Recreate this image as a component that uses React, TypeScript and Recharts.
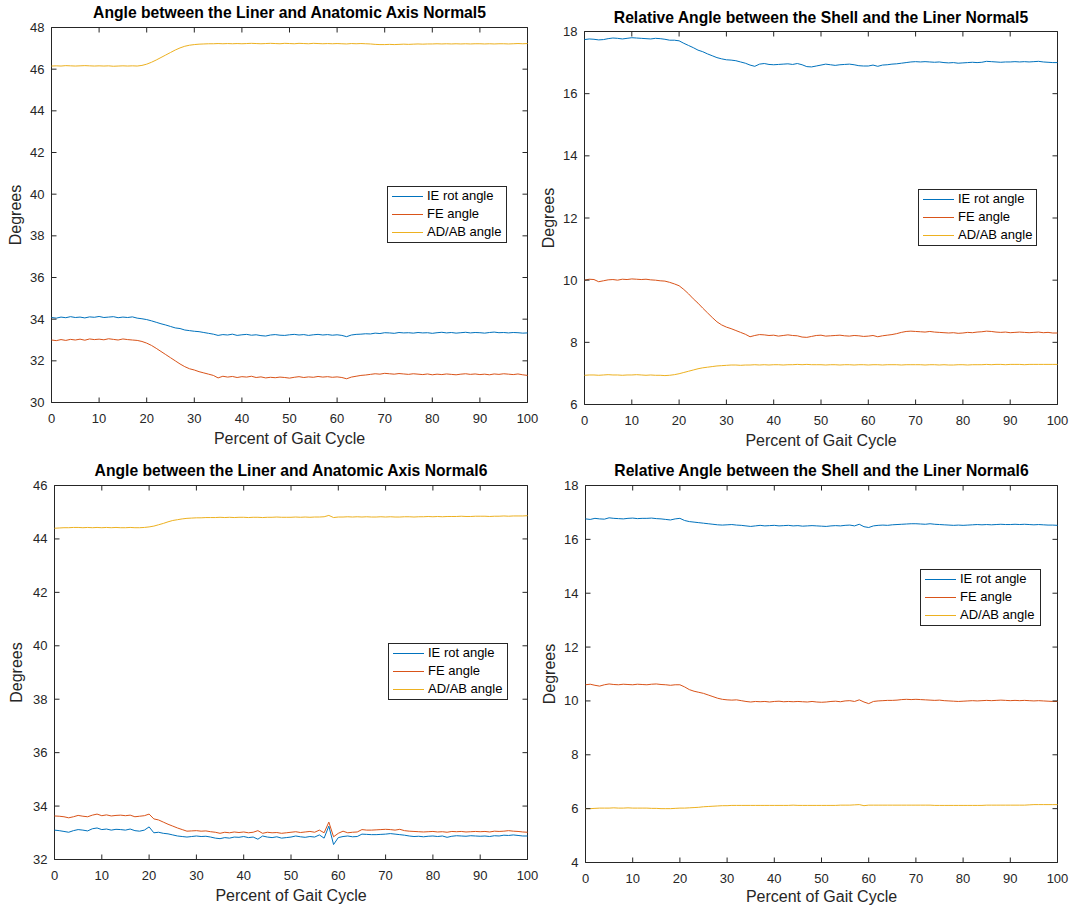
import React from 'react';
import { LineChart, Line, XAxis, YAxis, ReferenceArea, Legend } from 'recharts';

const FONT = '"Liberation Sans", Arial, Helvetica, sans-serif';
const AXIS_COLOR = '#262626';
const IE_COLOR = '#0072BD';
const FE_COLOR = '#D95319';
const AD_COLOR = '#EDB120';

// Sample positions along the gait cycle (percent, 1% steps)
const gaitPercent: number[] = Array.from({ length: 101 }, (_, i) => i);
const xTicks = [0, 10, 20, 30, 40, 50, 60, 70, 80, 90, 100];

// Normal5 — liner vs anatomic axis
const liner5Ie = [
  34.08, 34.05, 34.10, 34.07, 34.12, 34.08, 34.10, 34.06, 34.11, 34.09,
  34.13, 34.08, 34.10, 34.12, 34.07, 34.10, 34.08, 34.11, 34.05, 34.02,
  33.98, 33.92, 33.85, 33.78, 33.72, 33.65, 33.58, 33.55, 33.48, 33.45,
  33.42, 33.40, 33.36, 33.32, 33.28, 33.22, 33.26, 33.24, 33.28, 33.22,
  33.25, 33.27, 33.23, 33.25, 33.21, 33.19, 33.24, 33.26, 33.23, 33.22,
  33.25, 33.27, 33.24, 33.26, 33.22, 33.25, 33.27, 33.24, 33.26, 33.23,
  33.25, 33.22, 33.16, 33.24, 33.27, 33.28, 33.30, 33.29, 33.33, 33.31,
  33.35, 33.34, 33.32, 33.36, 33.34, 33.35, 33.33, 33.36, 33.34, 33.35,
  33.32, 33.35, 33.37, 33.34, 33.36, 33.33, 33.35, 33.37, 33.34, 33.36,
  33.35, 33.33, 33.36, 33.38, 33.35, 33.36, 33.34, 33.36, 33.35, 33.33,
  33.34,
];
const liner5Fe = [
  33.00, 32.97, 33.02, 32.98, 33.03, 33.00, 33.04, 32.99, 33.05, 33.02,
  33.04, 33.01, 33.06, 33.03, 33.00, 33.05, 33.02, 33.00, 32.98, 32.93,
  32.85, 32.74, 32.60, 32.45, 32.30, 32.15, 32.00, 31.85, 31.72, 31.62,
  31.56, 31.48, 31.42, 31.36, 31.30, 31.18, 31.26, 31.22, 31.25, 31.20,
  31.24, 31.22, 31.26, 31.20, 31.23, 31.18, 31.21, 31.19, 31.22, 31.20,
  31.17, 31.21, 31.24, 31.20, 31.23, 31.21, 31.25, 31.22, 31.24, 31.21,
  31.23, 31.20, 31.14, 31.22, 31.26, 31.30, 31.32, 31.35, 31.38, 31.36,
  31.40, 31.38, 31.36, 31.39, 31.37, 31.35, 31.38, 31.36, 31.34, 31.37,
  31.33, 31.36, 31.34, 31.37, 31.35, 31.33, 31.36, 31.38, 31.35, 31.37,
  31.34, 31.36, 31.33, 31.37, 31.35, 31.38, 31.36, 31.34, 31.37, 31.33,
  31.30,
];
const liner5Adab = [
  46.15, 46.16, 46.15, 46.17, 46.16, 46.15, 46.16, 46.17, 46.16, 46.15,
  46.16, 46.15, 46.16, 46.14, 46.15, 46.16, 46.15, 46.16, 46.15, 46.18,
  46.24, 46.33, 46.44, 46.56, 46.68, 46.80, 46.92, 47.02, 47.10, 47.15,
  47.18, 47.20, 47.21, 47.22, 47.22, 47.23, 47.22, 47.23, 47.22, 47.23,
  47.22, 47.23, 47.24, 47.23, 47.22, 47.23, 47.24, 47.23, 47.22, 47.24,
  47.23, 47.22, 47.24, 47.23, 47.22, 47.24, 47.23, 47.22, 47.23, 47.22,
  47.23, 47.22, 47.21, 47.23, 47.22, 47.23, 47.22, 47.21, 47.19, 47.18,
  47.18, 47.19, 47.18, 47.19, 47.20, 47.19, 47.20, 47.21, 47.20, 47.21,
  47.21, 47.22, 47.21, 47.22, 47.21, 47.22, 47.21, 47.22, 47.21, 47.22,
  47.22, 47.21, 47.22, 47.21, 47.22, 47.22, 47.21, 47.22, 47.23, 47.22,
  47.23,
];

// Normal5 — shell vs liner
const shell5Ie = [
  17.74, 17.76, 17.75, 17.73, 17.74, 17.77, 17.79, 17.78, 17.76, 17.78,
  17.80, 17.79, 17.78, 17.77, 17.76, 17.78, 17.77, 17.75, 17.72, 17.72,
  17.70, 17.62, 17.55, 17.48, 17.40, 17.35, 17.28, 17.22, 17.16, 17.12,
  17.09, 17.08, 17.06, 17.02, 16.98, 16.92, 16.88, 16.95, 16.97, 16.94,
  16.93, 16.94, 16.95, 16.96, 16.94, 16.97, 16.93, 16.87, 16.86, 16.89,
  16.92, 16.95, 16.93, 16.91, 16.93, 16.94, 16.95, 16.93, 16.90, 16.89,
  16.89, 16.92, 16.88, 16.92, 16.93, 16.95, 16.96, 16.98, 17.00, 17.02,
  17.03, 17.02, 17.03, 17.02, 17.01, 17.02, 17.00, 16.99, 17.00, 16.98,
  16.99, 17.00, 17.01, 17.00, 17.01, 17.04, 17.03, 17.02, 17.01, 17.02,
  17.02, 17.03, 17.02, 17.03, 17.02, 17.03, 17.04, 17.02, 17.01, 17.00,
  17.00,
];
const shell5Fe = [
  10.00, 10.03, 10.02, 9.95, 9.98, 10.01, 10.02, 10.00, 10.03, 10.02,
  10.04, 10.03, 10.02, 10.03, 10.01, 10.00, 9.98, 9.97, 9.93, 9.88,
  9.82, 9.70, 9.56, 9.40, 9.26, 9.10, 8.95, 8.80, 8.66, 8.56,
  8.49, 8.44, 8.38, 8.32, 8.26, 8.18, 8.22, 8.25, 8.24, 8.22,
  8.23, 8.20, 8.22, 8.24, 8.22, 8.21, 8.17, 8.16, 8.19, 8.22,
  8.23, 8.20, 8.21, 8.22, 8.23, 8.21, 8.20, 8.22, 8.21, 8.19,
  8.20, 8.22, 8.18, 8.21, 8.23, 8.25, 8.28, 8.32, 8.35, 8.36,
  8.35, 8.34, 8.33, 8.35, 8.33, 8.32, 8.31, 8.30, 8.31, 8.29,
  8.30, 8.32, 8.31, 8.33, 8.34, 8.36, 8.35, 8.33, 8.32, 8.33,
  8.31, 8.32, 8.33, 8.32, 8.31, 8.32, 8.33, 8.31, 8.32, 8.30,
  8.30,
];
const shell5Adab = [
  6.94, 6.95, 6.95, 6.94, 6.95, 6.96, 6.95, 6.95, 6.94, 6.95,
  6.95, 6.96, 6.95, 6.94, 6.95, 6.94, 6.94, 6.93, 6.94, 6.96,
  6.99, 7.03, 7.07, 7.11, 7.15, 7.18, 7.20, 7.22, 7.24, 7.25,
  7.26, 7.27, 7.27, 7.26, 7.27, 7.27, 7.28, 7.27, 7.28, 7.27,
  7.28, 7.28, 7.27, 7.28, 7.28, 7.29, 7.28, 7.29, 7.28, 7.28,
  7.28, 7.27, 7.28, 7.28, 7.27, 7.28, 7.28, 7.27, 7.28, 7.28,
  7.27, 7.28, 7.28, 7.27, 7.28, 7.28, 7.28, 7.27, 7.28, 7.28,
  7.28, 7.28, 7.27, 7.28, 7.28, 7.27, 7.28, 7.27, 7.27, 7.28,
  7.28, 7.27, 7.28, 7.28, 7.28, 7.29, 7.28, 7.29, 7.29, 7.28,
  7.29, 7.29, 7.29, 7.28, 7.29, 7.29, 7.29, 7.29, 7.29, 7.29,
  7.29,
];

// Normal6 — liner vs anatomic axis
const liner6Ie = [
  33.10, 33.08, 33.05, 33.02, 33.08, 33.12, 33.10, 33.07, 33.15, 33.18,
  33.12, 33.14, 33.10, 33.13, 33.12, 33.10, 33.14, 33.08, 33.06, 33.10,
  33.22, 33.00, 33.02, 32.98, 32.96, 32.92, 32.88, 32.86, 32.84, 32.86,
  32.88, 32.86, 32.87, 32.84, 32.80, 32.78, 32.82, 32.80, 32.84, 32.83,
  32.86, 32.82, 32.84, 32.76, 32.88, 32.84, 32.82, 32.85, 32.80, 32.82,
  32.84, 32.88, 32.85, 32.83, 32.86, 32.84, 32.92, 32.80, 33.25, 32.56,
  32.82, 32.86, 32.88, 32.85, 32.86, 32.95, 32.94, 32.93, 32.93, 32.94,
  32.95, 32.97, 32.95, 32.93, 32.91, 32.88, 32.86, 32.87, 32.85, 32.87,
  32.88, 32.86, 32.88, 32.83, 32.87, 32.89, 32.88, 32.87, 32.89, 32.88,
  32.87, 32.88, 32.86, 32.89, 32.88, 32.91, 32.90, 32.92, 32.90, 32.88,
  32.88,
];
const liner6Fe = [
  33.63, 33.62, 33.60, 33.56, 33.60, 33.65, 33.62, 33.60, 33.66, 33.70,
  33.64, 33.67, 33.63, 33.65, 33.66, 33.64, 33.66, 33.60, 33.62, 33.64,
  33.70, 33.52, 33.48, 33.40, 33.32, 33.25, 33.18, 33.12, 33.06, 33.07,
  33.08, 33.06, 33.07, 33.04, 33.02, 32.98, 33.02, 33.00, 33.03, 33.01,
  33.03, 33.00, 33.02, 33.08, 32.98, 33.02, 33.00, 33.01, 32.98, 33.00,
  33.02, 33.04, 33.01, 33.03, 33.05, 33.02, 33.10, 33.00, 33.40, 32.85,
  32.98, 33.06, 33.00, 33.02, 33.03, 33.12, 33.10, 33.10, 33.11, 33.12,
  33.13, 33.12, 33.10, 33.13, 33.08, 33.06, 33.05, 33.04, 33.03, 33.04,
  33.05, 33.03, 33.04, 33.02, 33.05, 33.04, 33.05, 33.03, 33.04, 33.05,
  33.04, 33.05, 33.03, 33.06, 33.05, 33.06, 33.08, 33.06, 33.05, 33.03,
  33.02,
];
const liner6Adab = [
  44.40, 44.41, 44.42, 44.42, 44.43, 44.43, 44.42, 44.43, 44.42, 44.43,
  44.42, 44.43, 44.42, 44.43, 44.42, 44.42, 44.43, 44.42, 44.42, 44.43,
  44.45, 44.48, 44.53, 44.58, 44.64, 44.69, 44.72, 44.75, 44.77, 44.78,
  44.79, 44.79, 44.80, 44.80, 44.80, 44.81, 44.80, 44.81, 44.80, 44.81,
  44.81, 44.80, 44.81, 44.81, 44.80, 44.81, 44.81, 44.82, 44.81, 44.81,
  44.81, 44.82, 44.81, 44.82, 44.81, 44.82, 44.82, 44.83, 44.88, 44.80,
  44.82, 44.82, 44.83, 44.82, 44.83, 44.82, 44.83, 44.82, 44.82, 44.83,
  44.82, 44.83, 44.82, 44.82, 44.83, 44.83, 44.82, 44.83, 44.83, 44.84,
  44.83, 44.84, 44.83, 44.84, 44.84, 44.84, 44.85, 44.84, 44.84, 44.85,
  44.85, 44.85, 44.84, 44.85, 44.85, 44.86, 44.85, 44.86, 44.86, 44.86,
  44.87,
];

// Normal6 — shell vs liner
const shell6Ie = [
  16.76, 16.74, 16.78, 16.76, 16.75, 16.80, 16.78, 16.77, 16.76, 16.78,
  16.79, 16.77, 16.78, 16.78, 16.79, 16.77, 16.76, 16.74, 16.72, 16.76,
  16.78, 16.70, 16.66, 16.64, 16.62, 16.60, 16.58, 16.56, 16.54, 16.53,
  16.54, 16.55, 16.53, 16.52, 16.50, 16.48, 16.50, 16.52, 16.50, 16.51,
  16.52, 16.50, 16.51, 16.52, 16.50, 16.51, 16.49, 16.50, 16.51, 16.50,
  16.49, 16.48, 16.50, 16.51, 16.50, 16.52, 16.53, 16.50, 16.56, 16.47,
  16.44, 16.50, 16.52, 16.53, 16.52, 16.54, 16.55, 16.56, 16.57, 16.58,
  16.58, 16.57, 16.56, 16.58, 16.56, 16.55, 16.54, 16.53, 16.52, 16.53,
  16.52, 16.53, 16.54, 16.55, 16.54, 16.55, 16.54, 16.55, 16.56, 16.55,
  16.55, 16.56, 16.55, 16.56, 16.55, 16.54, 16.55, 16.54, 16.53, 16.53,
  16.52,
];
const shell6Fe = [
  10.60, 10.62, 10.58, 10.55, 10.60, 10.63, 10.61, 10.60, 10.62, 10.61,
  10.60, 10.62, 10.61, 10.60, 10.62, 10.63, 10.61, 10.60, 10.58, 10.60,
  10.60, 10.52, 10.42, 10.36, 10.32, 10.28, 10.22, 10.16, 10.10, 10.06,
  10.04, 10.03, 10.04, 10.01, 9.98, 9.96, 9.98, 9.97, 9.98, 9.96,
  9.98, 9.99, 9.97, 9.98, 9.97, 9.98, 9.97, 9.96, 9.98, 9.96,
  9.95, 9.96, 9.98, 9.99, 9.97, 10.00, 10.01, 9.98, 10.04, 9.96,
  9.90, 9.98, 10.00, 10.01, 10.02, 10.02, 10.03, 10.05, 10.06, 10.05,
  10.06, 10.05, 10.04, 10.03, 10.02, 10.03, 10.01, 10.00, 9.99, 9.98,
  9.99, 10.00, 10.01, 10.00, 10.01, 10.02, 10.01, 10.02, 10.03, 10.02,
  10.01, 10.02, 10.01, 10.02, 10.01, 10.00, 10.01, 10.00, 9.99, 9.98,
  9.98,
];
const shell6Adab = [
  6.00, 6.00, 6.01, 6.02, 6.02, 6.02, 6.03, 6.02, 6.02, 6.03,
  6.02, 6.02, 6.02, 6.02, 6.01, 6.01, 6.00, 6.00, 6.00, 6.01,
  6.02, 6.02, 6.03, 6.04, 6.05, 6.07, 6.08, 6.09, 6.10, 6.11,
  6.11, 6.12, 6.12, 6.12, 6.12, 6.12, 6.12, 6.12, 6.12, 6.12,
  6.12, 6.12, 6.12, 6.12, 6.13, 6.12, 6.12, 6.12, 6.12, 6.12,
  6.12, 6.12, 6.12, 6.12, 6.13, 6.13, 6.13, 6.14, 6.15, 6.11,
  6.13, 6.13, 6.13, 6.13, 6.13, 6.13, 6.13, 6.13, 6.13, 6.13,
  6.13, 6.13, 6.13, 6.13, 6.12, 6.12, 6.12, 6.12, 6.12, 6.12,
  6.12, 6.12, 6.12, 6.12, 6.12, 6.13, 6.13, 6.13, 6.13, 6.13,
  6.13, 6.13, 6.13, 6.13, 6.14, 6.15, 6.15, 6.15, 6.15, 6.15,
  6.15,
];

const legendItems = [
  { label: 'IE rot angle', color: IE_COLOR },
  { label: 'FE angle', color: FE_COLOR },
  { label: 'AD/AB angle', color: AD_COLOR },
];
// vertical centres of the legend rows, measured inside the border
const legendRowCentres = [9, 27, 45];

const Y_AXIS_W = 40;
const X_AXIS_H = 30;

const SvgText = ({ tx, ty, text, size, weight, vertical, fill }: any) => (
  <text
    x={tx}
    y={ty}
    textAnchor="middle"
    fontFamily={FONT}
    fontSize={size}
    fontWeight={weight || 'normal'}
    fill={fill || AXIS_COLOR}
    transform={vertical ? `rotate(-90, ${tx}, ${ty})` : undefined}
  >
    {text}
  </text>
);

const LegendBox = ({ boxW, boxH }: any) => (
  <div
    style={{
      width: boxW,
      height: boxH,
      boxSizing: 'border-box',
      border: `1px solid ${AXIS_COLOR}`,
      background: '#fff',
      position: 'relative',
      fontFamily: FONT,
      fontSize: 13,
      color: '#000',
    }}
  >
    {legendItems.map((it, i) => (
      <React.Fragment key={it.label}>
        <div
          style={{
            position: 'absolute',
            left: 4,
            top: legendRowCentres[i],
            width: 31,
            height: 1,
            background: it.color,
          }}
        />
        <span
          style={{
            position: 'absolute',
            left: 39,
            top: legendRowCentres[i] - 9,
            height: 18,
            lineHeight: '18px',
            whiteSpace: 'nowrap',
          }}
        >
          {it.label}
        </span>
      </React.Fragment>
    ))}
  </div>
);

type PanelProps = {
  left: number;
  top: number;
  width: number;
  height: number;
  plot: { x0: number; x1: number; y0: number; y1: number };
  yDomain: [number, number];
  yTicks: number[];
  title: string;
  titleBaseline: number;
  xLabelBaseline: number;
  yLabelX: number;
  legendBox: { x: number; y: number; w: number; h: number };
  ie: number[];
  fe: number[];
  ad: number[];
};

const Panel = (p: PanelProps) => {
  const pl = p.plot.x0 - p.left + 0.5;
  const pr = p.plot.x1 - p.left + 0.5;
  const pt = p.plot.y0 - p.top + 0.5;
  const pb = p.plot.y1 - p.top + 0.5;
  const margin = {
    top: pt,
    right: p.width - pr,
    bottom: p.height - pb - X_AXIS_H,
    left: pl - Y_AXIS_W,
  };
  const data = gaitPercent.map((pct, i) => ({ pct, ie: p.ie[i], fe: p.fe[i], ad: p.ad[i] }));

  const xTick = (props: any) => {
    const { x, payload } = props;
    return (
      <g>
        <line x1={x} x2={x} y1={pb} y2={pb - 5} stroke={AXIS_COLOR} strokeWidth={1} />
        <line x1={x} x2={x} y1={pt} y2={pt + 5} stroke={AXIS_COLOR} strokeWidth={1} />
        <text x={x} y={pb + 20} textAnchor="middle" fontFamily={FONT} fontSize={13} fill={AXIS_COLOR}>
          {payload.value}
        </text>
      </g>
    );
  };
  const yTick = (props: any) => {
    const { y, payload } = props;
    return (
      <g>
        <line x1={pl} x2={pl + 5} y1={y} y2={y} stroke={AXIS_COLOR} strokeWidth={1} />
        <line x1={pr} x2={pr - 5} y1={y} y2={y} stroke={AXIS_COLOR} strokeWidth={1} />
        <text x={pl - 7} y={y + 4.5} textAnchor="end" fontFamily={FONT} fontSize={13} fill={AXIS_COLOR}>
          {payload.value}
        </text>
      </g>
    );
  };

  return (
    <div style={{ position: 'absolute', left: p.left, top: p.top, width: p.width, height: p.height }}>
      <LineChart width={p.width} height={p.height} data={data} margin={margin}>
        <XAxis
          dataKey="pct"
          type="number"
          domain={[0, 100]}
          ticks={xTicks}
          interval={0}
          height={X_AXIS_H}
          axisLine={false}
          tickLine={false}
          tick={xTick}
          label={<SvgText tx={(pl + pr) / 2} ty={p.xLabelBaseline - p.top} text="Percent of Gait Cycle" size={16} />}
        />
        <YAxis
          type="number"
          domain={p.yDomain}
          ticks={p.yTicks}
          interval={0}
          width={Y_AXIS_W}
          axisLine={false}
          tickLine={false}
          tick={yTick}
          label={<SvgText tx={p.yLabelX - p.left} ty={(pt + pb) / 2} text="Degrees" size={16} vertical />}
        />
        <Line type="linear" dataKey="ie" name="IE rot angle" stroke={IE_COLOR} strokeWidth={1} dot={false} isAnimationActive={false} />
        <Line type="linear" dataKey="fe" name="FE angle" stroke={FE_COLOR} strokeWidth={1} dot={false} isAnimationActive={false} />
        <Line type="linear" dataKey="ad" name="AD/AB angle" stroke={AD_COLOR} strokeWidth={1} dot={false} isAnimationActive={false} />
        <ReferenceArea
          x1={0}
          x2={100}
          y1={p.yDomain[0]}
          y2={p.yDomain[1]}
          fill="none"
          fillOpacity={0}
          stroke={AXIS_COLOR}
          strokeWidth={1}
          strokeOpacity={1}
          label={<SvgText tx={(pl + pr) / 2} ty={p.titleBaseline - p.top} text={p.title} size={15.7} weight="bold" fill="#000" />}
        />
        <Legend
          layout="vertical"
          verticalAlign="middle"
          align="center"
          wrapperStyle={{
            left: p.legendBox.x - p.left,
            top: p.legendBox.y - p.top,
            width: p.legendBox.w,
            height: p.legendBox.h,
          }}
          content={<LegendBox boxW={p.legendBox.w} boxH={p.legendBox.h} />}
        />
      </LineChart>
    </div>
  );
};

export default function App() {
  return (
    <div style={{ position: 'absolute', left: 0, top: 0, width: 1076, height: 909, background: '#fff' }}>
      <Panel
        left={0}
        top={0}
        width={540}
        height={455}
        plot={{ x0: 51, x1: 527, y0: 27, y1: 402 }}
        yDomain={[30, 48]}
        yTicks={[30, 32, 34, 36, 38, 40, 42, 44, 46, 48]}
        title="Angle between the Liner and Anatomic Axis Normal5"
        titleBaseline={18}
        xLabelBaseline={444}
        yLabelX={21}
        legendBox={{ x: 387, y: 186, w: 120, h: 57 }}
        ie={liner5Ie}
        fe={liner5Fe}
        ad={liner5Adab}
      />
      <Panel
        left={540}
        top={0}
        width={536}
        height={455}
        plot={{ x0: 584, x1: 1057, y0: 31, y1: 404 }}
        yDomain={[6, 18]}
        yTicks={[6, 8, 10, 12, 14, 16, 18]}
        title="Relative Angle between the Shell and the Liner Normal5"
        titleBaseline={23}
        xLabelBaseline={446}
        yLabelX={554}
        legendBox={{ x: 918, y: 189, w: 119, h: 57 }}
        ie={shell5Ie}
        fe={shell5Fe}
        ad={shell5Adab}
      />
      <Panel
        left={0}
        top={455}
        width={540}
        height={454}
        plot={{ x0: 54, x1: 527, y0: 485, y1: 859 }}
        yDomain={[32, 46]}
        yTicks={[32, 34, 36, 38, 40, 42, 44, 46]}
        title="Angle between the Liner and Anatomic Axis Normal6"
        titleBaseline={476}
        xLabelBaseline={901}
        yLabelX={22}
        legendBox={{ x: 388, y: 643, w: 120, h: 57 }}
        ie={liner6Ie}
        fe={liner6Fe}
        ad={liner6Adab}
      />
      <Panel
        left={540}
        top={455}
        width={536}
        height={454}
        plot={{ x0: 585, x1: 1057, y0: 485, y1: 862 }}
        yDomain={[4, 18]}
        yTicks={[4, 6, 8, 10, 12, 14, 16, 18]}
        title="Relative Angle between the Shell and the Liner Normal6"
        titleBaseline={476}
        xLabelBaseline={902}
        yLabelX={555}
        legendBox={{ x: 920, y: 569, w: 121, h: 57 }}
        ie={shell6Ie}
        fe={shell6Fe}
        ad={shell6Adab}
      />
    </div>
  );
}
